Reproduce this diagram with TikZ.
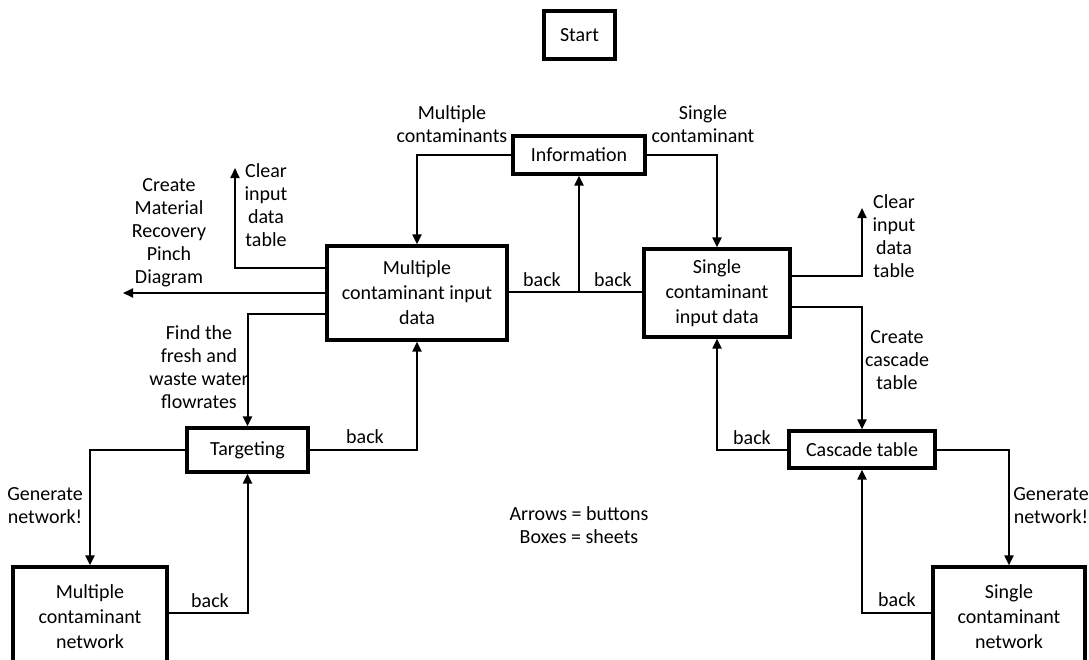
\documentclass[tikz,border=0pt]{standalone}
\usepackage{fontspec}
\setmainfont{Carlito}
\usetikzlibrary{arrows.meta}
\begin{document}
\begin{tikzpicture}[x=1pt,y=-1pt,
  sheet/.style={draw,line width=3.2pt,align=center,inner sep=0pt,
    font=\fontsize{20}{25}\selectfont},
  lbl/.style={align=center,inner sep=0pt,font=\fontsize{20}{23}\selectfont},
  link/.style={line width=2pt},
  btn/.style={link,-{Triangle[length=10pt,width=9pt]}}]
\useasboundingbox (0,0) rectangle (1089,659);
\fill[white] (0,0) rectangle (1089,659);

% sheets
\node[sheet,minimum width=71pt,minimum height=48pt] (start) at (579.5,35) {Start};
\node[sheet,minimum width=132pt,minimum height=38pt] (info) at (579,155) {Information};
\node[sheet,minimum width=180pt,minimum height=94pt] (mcin) at (417,293) {Multiple\\contaminant input\\data};
\node[sheet,minimum width=146pt,minimum height=88pt] (scin) at (717,293) {Single\\contaminant\\input data};
\node[sheet,minimum width=121pt,minimum height=44pt] (targ) at (247.5,450) {Targeting};
\node[sheet,minimum width=146pt,minimum height=37pt] (casc) at (862,449.5) {Cascade table};
\node[sheet,minimum width=154pt,minimum height=100pt] (mcnet) at (90,617) {Multiple\\contaminant\\network};
\node[sheet,minimum width=152pt,minimum height=100pt] (scnet) at (1009,617) {Single\\contaminant\\network};

% free ends of buttons
\coordinate (clearL) at (235,168);
\coordinate (pinch) at (123,293);
\coordinate (clearR) at (862,208);
\coordinate (joint) at (579,292);

% buttons (yshift is measured upwards on the page)
\draw[btn] (info.west) -| (mcin.north);
\draw[btn] (info.east) -| (scin.north);
\draw[link] (mcin.east |- joint) -- (scin.west |- joint);
\draw[btn] (joint) -- (info.south);
\draw[btn] ([yshift=25pt]mcin.west) -| (clearL);
\draw[btn] (mcin.west) -- (pinch);
\draw[btn] ([yshift=-21pt]mcin.west) -| (targ.north);
\draw[btn] (targ.east) -| (mcin.south);
\draw[btn] (targ.west) -| (mcnet.north);
\draw[btn] ([yshift=4pt]mcnet.east) -| (targ.south);
\draw[btn] ([yshift=17pt]scin.east) -| (clearR);
\draw[btn] ([yshift=-14pt]scin.east) -| (casc.north);
\draw[btn] (casc.west) -| (scin.south);
\draw[btn] (casc.east) -| (scnet.north);
\draw[btn] ([yshift=4pt]scnet.west) -| (casc.south);

% button labels
\node[lbl] (lmulti) at (452,124) {Multiple\\contaminants};
\node[lbl] (lsingle) at (703,124) {Single\\contaminant};
\node[lbl] (lback1) at (542,280) {back};
\node[lbl] (lback2) at (613,280) {back};
\node[lbl] (lclearL) at (266,205) {Clear\\input\\data\\table};
\node[lbl] (lpinch) at (169,233) {Create\\Material\\Recovery\\Pinch\\Diagram};
\node[lbl] (lfind) at (199,367) {Find the\\fresh and\\waste water\\flowrates};
\node[lbl] (lback3) at (365,437) {back};
\node[lbl] (lgenL) at (45,506) {Generate\\network!};
\node[lbl] (lback4) at (210,601) {back};
\node[lbl] (lclearR) at (894,236) {Clear\\input\\data\\table};
\node[lbl] (lcascade) at (897,360) {Create\\cascade\\table};
\node[lbl] (lback5) at (752,438) {back};
\node[lbl] (lgenR) at (1051,506) {Generate\\network!};
\node[lbl] (lback6) at (897,600) {back};

% legend
\node[lbl] (legend) at (579,525) {Arrows = buttons\\Boxes = sheets};
\end{tikzpicture}
\end{document}
